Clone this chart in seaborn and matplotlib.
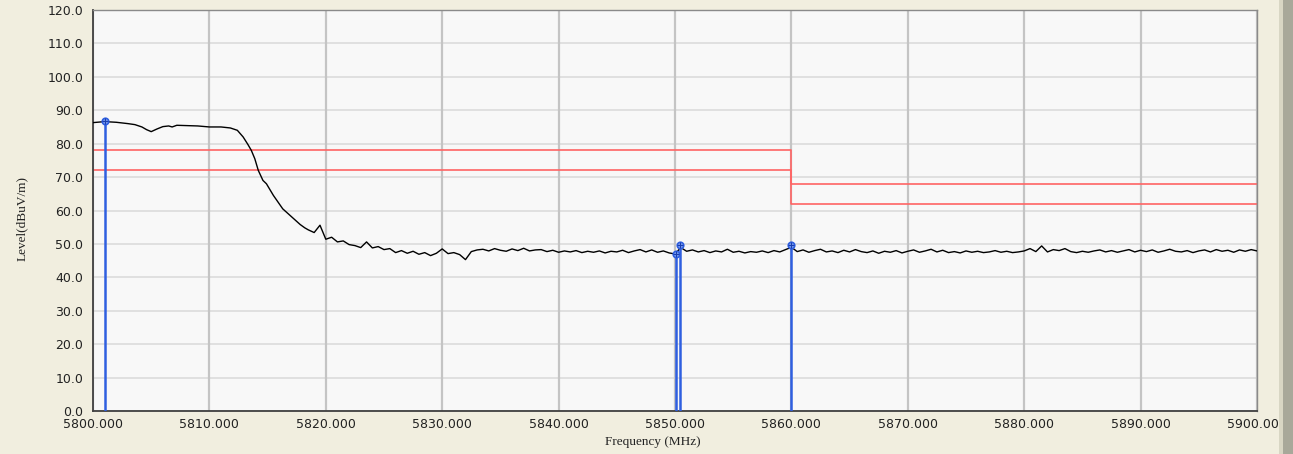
import numpy as np
import pandas as pd
import matplotlib
matplotlib.use("Agg")
import matplotlib.pyplot as plt
import seaborn as sns
from matplotlib.patches import Rectangle

# ---------------- data ----------------
freq_smooth = [5800.0, 5801.0, 5802.0, 5803.0, 5803.6, 5804.2, 5804.6, 5805.0, 5805.5, 5806.0,
               5806.5, 5806.8, 5807.2, 5808.0, 5809.0, 5810.0, 5811.0, 5811.8, 5812.4, 5812.9,
               5813.3, 5813.6, 5813.9, 5814.2, 5814.6, 5814.9, 5815.5, 5816.3, 5817.1, 5817.8,
               5818.2]
level_smooth = [86.3, 86.6, 86.4, 86.0, 85.7, 85.0, 84.2, 83.6, 84.4, 85.1,
                85.3, 85.0, 85.5, 85.4, 85.3, 85.0, 85.0, 84.7, 84.0, 82.0,
                79.8, 78.0, 75.5, 72.0, 69.0, 68.0, 64.5, 60.5, 58.0, 55.8,
                54.8]

sweep_start, sweep_stop, sweep_step = 5818.5, 5900.0, 0.5
level_sweep = [
    54.2, 53.4, 55.6, 51.4, 52.0, 50.6, 50.9, 49.8, 49.5, 48.9,
    50.6, 48.8, 49.2, 48.3, 48.6, 47.4, 48.0, 47.2, 47.8, 46.9,
    47.4, 46.5, 47.2, 48.5, 47.1, 47.4, 46.8, 45.3, 47.7, 48.2,
    48.4, 47.9, 48.6, 48.1, 47.8, 48.5, 48.0, 48.7, 47.9, 48.2,
    48.3, 47.7, 48.1, 47.5, 47.9, 47.6, 48.0, 47.4, 47.8, 47.5,
    47.9, 47.3, 47.8, 47.6, 48.1, 47.4, 47.9, 48.3, 47.6, 48.2,
    47.5, 47.9, 47.3, 47.0, 48.9, 47.8, 48.2, 47.6, 48.0, 47.4,
    47.9, 47.6, 48.4, 47.5, 47.8, 47.3, 47.7, 47.5, 47.9, 47.4,
    48.0, 47.6, 48.3, 49.0, 47.7, 48.2, 47.5, 48.0, 48.4, 47.6,
    47.9, 47.4, 48.1, 47.6, 48.3, 47.7, 47.4, 47.9, 47.2, 47.8,
    47.5, 48.0, 47.3, 47.8, 48.2, 47.5, 47.9, 48.4, 47.6, 48.1,
    47.4, 47.7, 47.3, 47.9, 47.5, 47.8, 47.4, 47.6, 48.0, 47.5,
    47.8, 47.4, 47.6, 47.9, 48.6, 47.7, 49.4, 47.6, 48.3, 48.0,
    48.6, 47.7, 47.4, 47.8, 47.5, 47.9, 48.2, 47.6, 48.0, 47.5,
    47.9, 48.3, 47.6, 48.1, 47.7, 48.2, 47.5, 47.9, 48.4, 47.8,
    47.6, 48.0, 47.4, 47.9, 48.2, 47.6, 48.3, 47.8, 48.1, 47.5,
    48.2, 47.8, 48.3, 47.9,
]

limit_freq = [5800.0, 5860.0, 5860.0, 5900.0]
limit_peak = [78.0, 78.0, 68.0, 68.0]
limit_avg = [72.0, 72.0, 62.0, 62.0]

marker_freq = [5801.0, 5850.05, 5850.4, 5860.0]
marker_level = [86.7, 47.0, 49.6, 49.6]

x_ticks = [5800, 5810, 5820, 5830, 5840, 5850, 5860, 5870, 5880, 5890, 5900]
y_ticks = [0, 10, 20, 30, 40, 50, 60, 70, 80, 90, 100, 110, 120]

# ---------------- build table ----------------
freq_sweep = np.arange(sweep_start, sweep_stop + sweep_step / 2, sweep_step)
trace = pd.DataFrame({
    "freq": list(freq_smooth) + list(freq_sweep),
    "level": list(level_smooth) + list(level_sweep),
})
limits = pd.DataFrame({"freq": limit_freq * 2,
                       "level": limit_peak + limit_avg,
                       "kind": ["peak"] * 4 + ["avg"] * 4})

# ---------------- style ----------------
BG = "#F1EEDF"
sns.set_style("white", {"axes.facecolor": "#F8F8F8", "figure.facecolor": BG})
plt.rcParams["font.family"] = ["DejaVu Sans"]

fig = plt.figure(figsize=(12.93, 4.54), dpi=100)
fig.patch.set_facecolor(BG)
ax = fig.add_axes([93 / 1293, 1 - 411 / 454, (1257 - 93) / 1293, (411 - 10) / 454])
ax.set_facecolor("#F8F8F8")

# grid
for yv in y_ticks:
    ax.axhline(yv, color="#DCDCDC", lw=1.2, zorder=0)
for xv in x_ticks:
    ax.axvline(xv, color="#C4C4C4", lw=1.6, zorder=0)

# limit lines
sns.lineplot(data=limits, x="freq", y="level", units="kind", estimator=None, sort=False,
             color="#FF6464", lw=1.2, ax=ax, zorder=2)

# trace
sns.lineplot(data=trace, x="freq", y="level", estimator=None, sort=False,
             color="black", lw=1.0, ax=ax, zorder=3)

# markers
ax.vlines(marker_freq, 0, marker_level, color="#2F5FE0", lw=1.8, zorder=4)
ax.scatter(marker_freq, marker_level, s=22, facecolor="#7FA0F0", edgecolor="#2F5FE0",
           lw=1.2, zorder=5)
ax.scatter(marker_freq, marker_level, s=18, marker="+", color="#1A3FB0", lw=0.8, zorder=6)

ax.set_xlim(5800, 5900)
ax.set_ylim(0, 120)
ax.set_xticks(x_ticks)
ax.set_xticklabels([f"{v:.3f}" for v in x_ticks])
ax.set_yticks(y_ticks)
ax.set_yticklabels([f"{v:.1f}" for v in y_ticks])
ax.tick_params(axis="both", labelsize=9, colors="#222222", length=5, width=1, direction="out")
ax.tick_params(axis="x", pad=0)
ax.tick_params(axis="y", pad=2)

for s in ["left", "bottom"]:
    ax.spines[s].set_color("#404040")
    ax.spines[s].set_linewidth(1.3)
for s in ["top", "right"]:
    ax.spines[s].set_color("#8A8A8A")
    ax.spines[s].set_linewidth(1.0)

ax.set_xlabel("Frequency (MHz)", family=["Liberation Serif", "DejaVu Serif"], fontsize=9.5,
              color="#222222")
ax.xaxis.set_label_coords(0.481, -0.062)
ax.set_ylabel("Level(dBuV/m)", family=["Liberation Serif", "DejaVu Serif"], fontsize=9.5,
              color="#222222")
ax.yaxis.set_label_coords(-0.056, 0.48)

# window edge on the right
fig.patches.append(Rectangle((1282 / 1293, 0), 11 / 1293, 1, transform=fig.transFigure,
                             facecolor="#A8A89A", edgecolor="none", zorder=10))
fig.patches.append(Rectangle((1279 / 1293, 0), 4 / 1293, 1, transform=fig.transFigure,
                             facecolor="#D8D6C4", edgecolor="none", zorder=10))

fig.savefig("out.png", dpi=100, facecolor=BG)
